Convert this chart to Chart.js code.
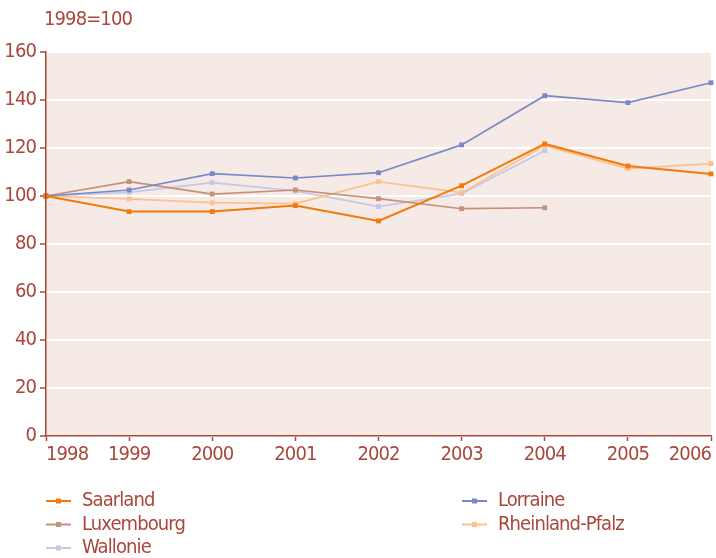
<html>
<head>
    <script src="https://cdn.jsdelivr.net/npm/chart.js@4/dist/chart.umd.min.js"></script>
    <style>
        body { margin: 0; background: #fff; }
    </style>
</head>
<body>
    <canvas id="dataChart" width="716" height="558"></canvas>
<script>
    var years = ["1998", "1999", "2000", "2001", "2002", "2003", "2004", "2005", "2006"];
    var saarland = [100, 93.5, 93.5, 96, 89.6, 104.3, 121.7, 112.5, 109.2];
    var lorraine = [100, 102.5, 109.3, 107.5, 109.7, 121.3, 141.8, 138.9, 147.2];
    var luxembourg = [100, 106, 100.8, 102.5, 98.9, 94.7, 95.1, null, null];
    var rheinlandPfalz = [100, 98.8, 97.2, 96.8, 106, 101.4, 121, 111.4, 113.5];
    var wallonie = [100, 101.5, 105.6, 102.1, 95.6, 101, 118.9, null, null];
    var yTicks = [0, 20, 40, 60, 80, 100, 120, 140, 160];
    var unitLabel = "1998=100";

    var textColor = "#a8473a";
    var fontName = "'Liberation Sans Narrow', 'DejaVu Sans Condensed', sans-serif";

    function series(label, data, color, width) {
        return {
            label: label,
            data: data,
            borderColor: color,
            backgroundColor: color,
            borderWidth: width,
            pointStyle: 'rect',
            pointRadius: 3.4,
            pointBorderWidth: 0,
            tension: 0
        };
    }

    // plot background + unit label; narrower letters for all text
    var decor = {
        id: 'decor',
        beforeDraw: function (chart) {
            var a = chart.chartArea, c = chart.ctx;
            c.letterSpacing = "-0.9px";
            c.save();
            c.fillStyle = "#f5eae5";
            c.fillRect(a.left, a.top, a.right - a.left, a.bottom - a.top);
            c.fillStyle = textColor;
            c.font = "20px " + fontName;
            c.textBaseline = "middle";
            c.fillText(unitLabel, 44, 20);
            c.restore();
        }
    };

    // two column legend under the axis
    var legend2 = {
        id: 'legend2',
        afterDraw: function (chart) {
            var c = chart.ctx;
            c.save();
            c.font = "20px " + fontName;
            c.textBaseline = "middle";
            chart.data.datasets.forEach(function (ds, i) {
                var x = (i % 2 === 0) ? 46 : 462;
                var y = 501 + Math.floor(i / 2) * 23.5;
                c.strokeStyle = ds.borderColor;
                c.lineWidth = 2;
                c.beginPath();
                c.moveTo(x, y);
                c.lineTo(x + 25, y);
                c.stroke();
                c.fillStyle = ds.borderColor;
                c.fillRect(x + 10, y - 2.5, 5, 5);
                c.fillStyle = textColor;
                c.fillText(ds.label, x + 36, y);
            });
            c.restore();
        }
    };

    var ctx = document.getElementById("dataChart");
    var myChart = new Chart(ctx, {
        type: 'line',
        data: {
            labels: years,
            datasets: [
                series("Saarland", saarland, "#f07a0a", 2),
                series("Lorraine", lorraine, "#7a89c6", 1.7),
                series("Luxembourg", luxembourg, "#c8907a", 1.7),
                series("Rheinland-Pfalz", rheinlandPfalz, "#fbc28f", 1.7),
                series("Wallonie", wallonie, "#c5c8e6", 1.7)
            ]
        },
        options: {
            responsive: false,
            animation: false,
            layout: { padding: { top: 52, right: 5, bottom: 92, left: 0 } },
            plugins: {
                legend: { display: false },
                tooltip: { enabled: false }
            },
            scales: {
                x: {
                    offset: false,
                    afterFit: function (s) { s.height = 30; },
                    grid: { drawOnChartArea: false, drawTicks: true, tickLength: 5, tickColor: textColor, tickWidth: 1.5 },
                    border: { color: textColor, width: 1.5 },
                    ticks: { color: textColor, font: { family: fontName, size: 20 }, align: 'inner', padding: 2, maxRotation: 0, autoSkip: false }
                },
                y: {
                    min: 0,
                    max: 160,
                    afterFit: function (s) { s.width = 46; },
                    afterBuildTicks: function (s) { s.ticks = yTicks.map(function (v) { return { value: v }; }); },
                    grid: { color: "#ffffff", lineWidth: 2, tickLength: 6, tickColor: textColor, tickWidth: 1.5 },
                    border: { color: textColor, width: 1.5, z: 1 },
                    ticks: { color: textColor, font: { family: fontName, size: 20 }, padding: 4 }
                }
            }
        },
        plugins: [decor, legend2]
    });
</script>
</body>
</html>
